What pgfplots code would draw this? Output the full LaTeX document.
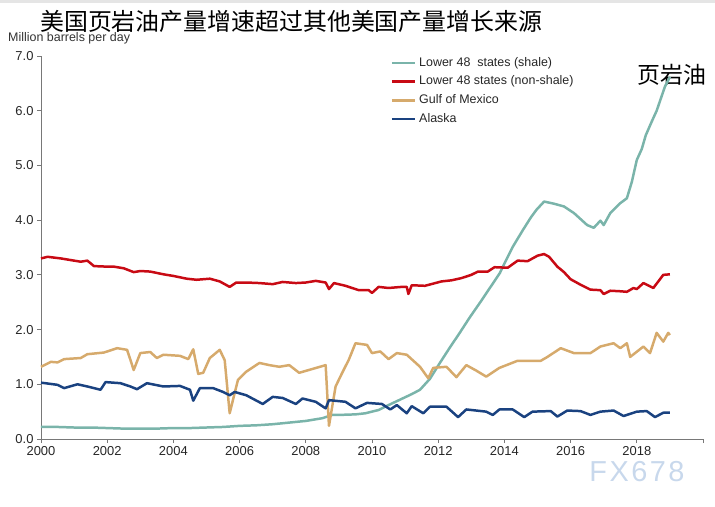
\documentclass[border=0pt]{standalone}
\usepackage{fontspec}
\setmainfont{Liberation Sans}
\newfontfamily\cjk{Noto Sans CJK SC}
\usepackage{pgfplots}
\pgfplotsset{compat=1.18}
\definecolor{shale}{RGB}{122,180,170}
\definecolor{nonshale}{RGB}{200,10,20}
\definecolor{gulf}{RGB}{214,170,108}
\definecolor{alaska}{RGB}{26,66,128}
\definecolor{axgray}{RGB}{120,120,120}
\definecolor{wm}{RGB}{200,216,236}
\begin{document}
\begin{tikzpicture}
\path[use as bounding box] (0,0) rectangle (715bp,507bp);
\fill[black!10] (0,504bp) rectangle (715bp,507bp);
\node[anchor=west,inner sep=0pt] at (40bp,486bp) {\cjk\fontsize{24}{24}\selectfont 美国页岩油产量增速超过其他美国产量增长来源};
\node[anchor=west,inner sep=0pt,text=black!80] at (8bp,469bp) {\fontsize{12.5}{12.5}\selectfont Million barrels per day};
\node[inner sep=0pt] at (672bp,432bp) {\cjk\fontsize{23}{23}\selectfont 页岩油};
\node[inner sep=0pt,text=wm] at (637bp,35bp) {\fontsize{29}{29}\selectfont F\kern2.5bp X\kern2.5bp 6\kern2.5bp 7\kern2.5bp 8};
\begin{axis}[
  at={(41bp,68bp)}, anchor=south west,
  scale only axis, width=662bp, height=383bp,
  xmin=2000, xmax=2020, ymin=0, ymax=7,
  axis x line*=bottom, axis y line*=left,
  axis line style={draw=axgray, line width=0.8pt, -},
  xtick={2000,2002,2004,2006,2008,2010,2012,2014,2016,2018,2020},
  xticklabels={2000,2002,2004,2006,2008,2010,2012,2014,2016,2018,},
  ytick={0,1,2,3,4,5,6,7},
  yticklabel style={/pgf/number format/.cd, fixed, fixed zerofill, precision=1},
  /pgf/number format/assume math mode=true,
  tick align=outside, major tick length=4bp,
  tick style={draw=axgray, line width=0.8pt},
  ticklabel style={font=\fontsize{13}{13}\selectfont, text=black!85},
  clip=false,
  legend style={at={(axis description cs:0.528,1.0)}, anchor=north west, draw=none, fill=none,
    font=\fontsize{12.5}{12.5}\selectfont, row sep=5.2bp, inner sep=0pt,
    nodes={inner sep=1bp, text=black!85, text height=9bp, text depth=2.5bp},
    /tikz/every odd column/.append style={column sep=2bp}},
  legend cell align=left,
  legend image code/.code={\draw[#1, line width=2.5pt] (0bp,0bp) -- (23bp,0bp);},
  every axis plot/.append style={line width=2.5pt, line join=round},
]
\addplot[shale] coordinates {
(2000.0,0.22)(2000.5,0.22)(2001.0,0.21)(2001.5,0.21)(2002.0,0.20)(2002.5,0.19)(2003.0,0.19)(2003.5,0.19)
(2004.0,0.20)(2004.5,0.20)(2005.0,0.21)(2005.5,0.22)(2006.0,0.24)(2006.5,0.25)(2007.0,0.27)(2007.5,0.30)
(2008.0,0.33)(2008.5,0.38)(2008.8,0.44)(2009.0,0.44)(2009.5,0.45)(2009.8,0.47)(2010.2,0.53)(2010.5,0.62)
(2010.85,0.72)(2011.2,0.82)(2011.45,0.90)(2011.75,1.10)(2012.05,1.39)(2012.35,1.67)(2012.65,1.94)
(2012.95,2.22)(2013.26,2.49)(2013.56,2.76)(2013.86,3.03)(2014.06,3.28)(2014.26,3.52)(2014.56,3.82)
(2014.8,4.05)(2014.97,4.19)(2015.2,4.34)(2015.5,4.30)(2015.8,4.25)(2016.1,4.13)(2016.3,4.02)(2016.5,3.91)
(2016.7,3.86)(2016.9,3.99)(2017.0,3.91)(2017.2,4.13)(2017.5,4.31)(2017.7,4.40)(2017.85,4.70)(2018.0,5.10)
(2018.15,5.30)(2018.27,5.55)(2018.45,5.80)(2018.6,6.00)(2018.85,6.44)(2019.0,6.62)};
\addlegendentry{Lower 48\ \ states (shale)}
\addplot[nonshale] coordinates {
(2000.0,3.30)(2000.2,3.33)(2000.6,3.30)(2001.0,3.26)(2001.2,3.24)(2001.4,3.26)(2001.6,3.16)(2002.0,3.15)
(2002.2,3.15)(2002.5,3.12)(2002.8,3.05)(2003.0,3.07)(2003.3,3.06)(2003.7,3.01)(2004.0,2.98)(2004.4,2.93)
(2004.7,2.91)(2005.1,2.93)(2005.4,2.88)(2005.7,2.78)(2005.9,2.86)(2006.2,2.86)(2006.6,2.85)(2007.0,2.83)
(2007.3,2.87)(2007.7,2.85)(2008.0,2.86)(2008.3,2.89)(2008.6,2.86)(2008.7,2.74)(2008.85,2.85)(2009.2,2.80)
(2009.6,2.72)(2009.9,2.72)(2010.0,2.67)(2010.2,2.78)(2010.5,2.76)(2010.9,2.78)(2011.05,2.78)(2011.1,2.65)
(2011.2,2.81)(2011.6,2.80)(2012.1,2.88)(2012.4,2.90)(2012.7,2.94)(2013.0,3.00)(2013.2,3.06)(2013.5,3.06)
(2013.7,3.14)(2014.1,3.13)(2014.4,3.26)(2014.7,3.25)(2015.0,3.35)(2015.2,3.38)(2015.35,3.33)(2015.6,3.15)
(2015.8,3.05)(2016.0,2.92)(2016.3,2.82)(2016.6,2.73)(2016.9,2.72)(2017.0,2.65)(2017.2,2.71)(2017.5,2.70)
(2017.7,2.69)(2017.9,2.76)(2018.0,2.74)(2018.2,2.85)(2018.5,2.76)(2018.7,2.92)(2018.8,3.00)(2019.0,3.01)};
\addlegendentry{Lower 48 states (non-shale)}
\addplot[gulf] coordinates {
(2000.0,1.32)(2000.3,1.41)(2000.5,1.40)(2000.7,1.46)(2001.2,1.48)(2001.4,1.55)(2001.9,1.58)(2002.3,1.66)
(2002.6,1.63)(2002.7,1.45)(2002.8,1.26)(2003.0,1.57)(2003.3,1.59)(2003.5,1.48)(2003.7,1.54)(2004.2,1.52)
(2004.45,1.46)(2004.6,1.64)(2004.75,1.19)(2004.9,1.21)(2005.1,1.48)(2005.4,1.63)(2005.55,1.44)(2005.7,0.47)
(2005.95,1.08)(2006.2,1.23)(2006.6,1.39)(2006.9,1.35)(2007.2,1.32)(2007.5,1.35)(2007.8,1.21)(2008.2,1.28)
(2008.6,1.35)(2008.7,0.24)(2008.9,0.96)(2009.1,1.21)(2009.3,1.45)(2009.5,1.75)(2009.85,1.72)(2010.0,1.57)
(2010.25,1.60)(2010.5,1.46)(2010.75,1.57)(2011.05,1.54)(2011.45,1.32)(2011.7,1.11)(2011.85,1.30)(2012.25,1.32)
(2012.55,1.13)(2012.85,1.35)(2013.15,1.25)(2013.45,1.14)(2013.85,1.30)(2014.4,1.43)(2015.1,1.43)(2015.3,1.50)
(2015.7,1.66)(2016.1,1.57)(2016.6,1.57)(2016.9,1.69)(2017.3,1.75)(2017.5,1.66)(2017.7,1.75)(2017.8,1.50)
(2018.2,1.69)(2018.4,1.57)(2018.6,1.94)(2018.8,1.78)(2018.95,1.94)(2019.0,1.90)};
\addlegendentry{Gulf of Mexico}
\addplot[alaska] coordinates {
(2000.0,1.03)(2000.5,0.99)(2000.7,0.93)(2001.1,1.00)(2001.4,0.96)(2001.8,0.90)(2001.95,1.04)(2002.4,1.02)
(2002.7,0.96)(2002.9,0.91)(2003.2,1.02)(2003.7,0.96)(2004.2,0.97)(2004.5,0.90)(2004.6,0.70)(2004.8,0.93)
(2005.2,0.93)(2005.5,0.86)(2005.7,0.80)(2005.85,0.86)(2006.2,0.80)(2006.7,0.64)(2007.0,0.77)(2007.3,0.75)
(2007.7,0.64)(2007.9,0.74)(2008.3,0.68)(2008.6,0.56)(2008.7,0.71)(2009.2,0.68)(2009.5,0.56)(2009.85,0.66)
(2010.3,0.64)(2010.55,0.54)(2010.75,0.62)(2011.05,0.47)(2011.2,0.60)(2011.55,0.47)(2011.75,0.59)(2012.25,0.59)
(2012.6,0.40)(2012.85,0.54)(2013.45,0.50)(2013.65,0.44)(2013.85,0.54)(2014.25,0.54)(2014.6,0.40)(2014.85,0.50)
(2015.4,0.51)(2015.6,0.41)(2015.9,0.52)(2016.3,0.51)(2016.6,0.44)(2016.9,0.50)(2017.3,0.52)(2017.6,0.42)
(2018.0,0.50)(2018.3,0.51)(2018.55,0.40)(2018.8,0.48)(2019.0,0.48)};
\addlegendentry{Alaska}
\end{axis}
\end{tikzpicture}
\end{document}
